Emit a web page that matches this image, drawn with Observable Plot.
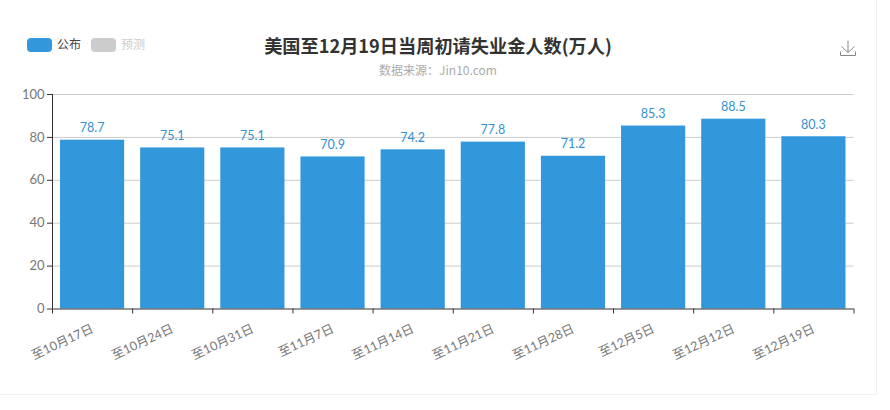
<!DOCTYPE html>
<html>
<head>
<meta charset="utf-8">
<script src="https://cdn.jsdelivr.net/npm/d3@7"></script>
<script src="https://cdn.jsdelivr.net/npm/@observablehq/plot@0.6"></script>
<style>
html,body{margin:0;padding:0;background:#fff;}
#page{position:relative;width:890px;height:410px;overflow:hidden;font-family:"Noto Sans CJK SC",sans-serif;}
#card{position:absolute;left:-2px;top:-2px;width:878px;height:396px;border-right:1px solid #f1f1f1;border-bottom:1px solid #f1f1f1;}
#header{position:absolute;left:0;top:0;width:890px;height:84px;}
#title{position:absolute;left:0;top:33px;width:876px;text-align:center;font-size:18.2px;font-weight:700;color:#333;line-height:24px;}
#sub{position:absolute;left:0;top:62px;width:876px;text-align:center;font-size:12px;color:#aaa;line-height:16px;}
.sw{position:absolute;top:38px;width:25px;height:14px;border-radius:4px;}
.lg{position:absolute;top:36px;font-size:12px;line-height:16px;}
#dl{position:absolute;left:840px;top:40px;}
#chart{position:absolute;left:0;top:84px;}
</style>
</head>
<body>
<div id="page">
<div id="card"></div>
<div id="header">
<div class="sw" style="left:27px;background:#3398DB"></div><div class="lg" style="left:57px;color:#444">公布</div>
<div class="sw" style="left:91px;background:#ccc"></div><div class="lg" style="left:121px;color:#ccc">预测</div>
<div id="title"></div>
<div id="sub"></div>
<svg id="dl" width="16" height="17" viewBox="0 0 16 17" fill="none" stroke="#888" stroke-width="1"><path d="M8 0.5V12.5M1.5 6.5L8 12.5L14.5 6.5M0.5 11.5V15.5H15.5V11.5"/></svg>
</div>
<div id="chart"></div>
</div>
<script>
const titleText = "美国至12月19日当周初请失业金人数(万人)";
const subText = "数据来源：Jin10.com";
const categories = ["至10月17日","至10月24日","至10月31日","至11月7日","至11月14日","至11月21日","至11月28日","至12月5日","至12月12日","至12月19日"];
const values = [78.7,75.1,75.1,70.9,74.2,77.8,71.2,85.3,88.5,80.3];
const yTicks = [0,20,40,60,80,100];

document.getElementById("title").textContent = titleText;
document.getElementById("sub").textContent = subText;

const rows = categories.map((c,i)=>({c,i,v:values[i]}));
const numFont = "Lato,'Noto Sans CJK SC',sans-serif";
const plot = Plot.plot({
  width: 890, height: 325,
  marginLeft: 52, marginRight: 36.5, marginTop: 10, marginBottom: 100.5,
  style: {fontFamily: numFont, background: "transparent", overflow: "visible"},
  x: {type: "linear", domain: [0, categories.length], axis: null},
  y: {domain: [0,100], axis: null},
  marks: [
    Plot.ruleY(yTicks.filter(d=>d>0), {y: d=>d, stroke: "#ccc", strokeOpacity: 1}),
    Plot.rectY(rows, {x1: "i", x2: d=>d.i+1, y: "v", fill: "#3398DB", insetLeft: 8, insetRight: 8}),
    Plot.text(rows, {x: d=>d.i+0.5, y: "v", text: d=>d.v.toFixed(1), dy: -12, dx: -0.5, fill: "#3590CE", fontSize: 12.5}),
    Plot.axisY({ticks: yTicks, tickSize: 5, tickPadding: 3, stroke: "#333", strokeOpacity: 1, fill: "#777", fontSize: 13, label: null}),
    Plot.ruleX([0], {stroke: "#333"}),
    Plot.axisX({ticks: d3.range(categories.length+1), tickSize: 5, stroke: "#333", strokeOpacity: 1, tickFormat: ()=>"", label: null}),
    Plot.ruleY([0], {stroke: "#333"}),
    Plot.text(rows, {x: d=>d.i+0.5, y: 0, text: "c", rotate: -25, textAnchor: "end", dy: 19, dx: 0, fill: "#777", fontSize: 12.5})
  ]
});
document.getElementById("chart").appendChild(plot);
</script>
</body>
</html>
